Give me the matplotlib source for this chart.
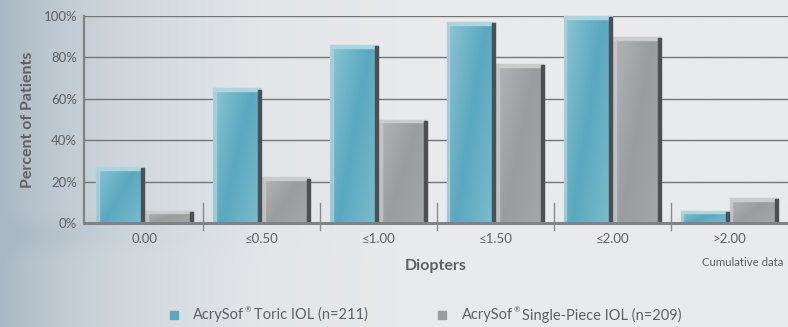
import numpy as np
import matplotlib
matplotlib.use("Agg")
import matplotlib.pyplot as plt
from matplotlib.colors import LinearSegmentedColormap
from matplotlib.patches import Rectangle

# Cumulative refractive astigmatism, percent of patients
categories = ["0.00", "\u22640.50", "\u22641.00", "\u22641.50", "\u22642.00", ">2.00"]
toric = [27, 65, 86, 97, 100, 6]
single_piece = [6, 22, 50, 77, 90, 12]
brand = "AcrySof"
series_names = ["Toric IOL (n=211)", "Single-Piece IOL (n=209)"]
series_colors = ["#5aa8bf", "#9a9da0"]

plt.rcParams["font.family"] = ["Lato", "DejaVu Sans"]
TXT = "#5f6062"
W, H = 788, 327

fig = plt.figure(figsize=(W / 100, H / 100), dpi=100)

# soft background wash: bluish grey at the left, fading to pale grey
bg = fig.add_axes([0, 0, 1, 1], zorder=-10)
bg.set_axis_off()
xx = np.linspace(0, 1, 400)
yy = np.linspace(0, 1, 200)
X, Y = np.meshgrid(xx, yy)
t = np.clip(X / 0.55, 0, 1) ** 0.8
t = t - 0.08 * np.exp(-((Y - 0.72) / 0.05) ** 2) * (1 - t)
bg_cmap = LinearSegmentedColormap.from_list("bg", ["#a9b8c3", "#cdd5db", "#e3e6e9", "#e8eaec"])
bg.imshow(t, cmap=bg_cmap, aspect="auto", extent=[0, 1, 0, 1], vmin=0, vmax=1)

ax = fig.add_axes([84 / W, 104 / H, 704 / W, 207 / H])
ax.set_facecolor("none")

x = np.arange(len(categories))
width = 0.41
offset = 0.21

teal_cmap = LinearSegmentedColormap.from_list("teal", ["#8cc5d4", "#5aa8bf", "#7dbccd"])
grey_cmap = LinearSegmentedColormap.from_list("grey", ["#b3b6b8", "#9a9da0", "#a5a8aa"])


def draw_bars(pos, vals, cmap, top_col, edge_col):
    bars = ax.bar(pos, vals, width, color="none", zorder=3)
    for r in bars:
        x0, y0 = r.get_x(), r.get_y()
        w, h = r.get_width(), r.get_height()
        g = np.linspace(0, 1, 64)
        G = (g[None, :] * 0.6 + g[:, None] * 0.4)
        im = ax.imshow(G[::-1], cmap=cmap, aspect="auto", origin="lower",
                       extent=[x0, x0 + w, y0, y0 + h], zorder=3)
        im.set_clip_path(r)
        # light cap along top and left, dark shadow on right edge
        ax.add_patch(Rectangle((x0, h - 1.4), w, 1.4, color=top_col, zorder=4, clip_on=False))
        ax.add_patch(Rectangle((x0, 0), 0.02, h, color=top_col, alpha=0.7, zorder=4))
        ax.add_patch(Rectangle((x0 + w - 0.025, 0), 0.025, h - 0.6, color=edge_col, zorder=5, clip_on=False))
    return bars


draw_bars(x - offset, toric, teal_cmap, "#a9d6e2", "#4d4f52")
draw_bars(x + offset, single_piece, grey_cmap, "#c9cccd", "#4d4f52")

ax.set_xlim(-0.52, 5.5)
ax.set_ylim(0, 100)
ax.set_yticks(np.arange(0, 101, 20))
ax.set_yticklabels([f"{v}%" for v in range(0, 101, 20)], color=TXT, fontsize=9.5)
ax.yaxis.grid(True, color="#737577", linewidth=1.0)
ax.set_axisbelow(True)
ax.tick_params(axis="y", length=0, pad=5)
ax.tick_params(axis="x", length=0, pad=7)
ax.set_xticks(x)
ax.set_xticklabels(categories, color=TXT, fontsize=9.5)

for s in ["top", "right"]:
    ax.spines[s].set_visible(False)
ax.spines["left"].set_color("#808284")
ax.spines["left"].set_linewidth(1.6)
ax.spines["bottom"].set_color("#808284")
ax.spines["bottom"].set_linewidth(2.2)
ax.spines["bottom"].set_zorder(6)

# group separators crossing the baseline
for sx in x[:-1] + 0.5:
    ax.plot([sx, sx], [-3.5, 9.5], color="#8a8c8e", linewidth=1, clip_on=False, zorder=2)

ax.set_ylabel("Percent of Patients", color=TXT, fontsize=11.5, fontweight="bold", labelpad=6)
ax.set_xlabel("Diopters", color=TXT, fontsize=11.5, fontweight="bold", labelpad=10)
fig.text(783 / W, 1 - 263 / H, "Cumulative data", color=TXT, fontsize=8.2,
         ha="right", va="center")

# legend row below the chart, with a small raised registered mark
renderer = fig.canvas.get_renderer()


def legend_entry(sq_x, txt_x, name, color, y_px=315):
    fig.patches.append(Rectangle((sq_x / W, 1 - (y_px + 4) / H), 8 / W, 8 / H,
                                 transform=fig.transFigure, color=color))
    t1 = fig.text(txt_x / W, 1 - y_px / H, brand, color=TXT, fontsize=10.5, va="center")
    x1 = t1.get_window_extent(renderer).x1
    t2 = fig.text((x1 + 0.5) / W, 1 - (y_px - 5) / H, "\u00ae", color=TXT, fontsize=5.5,
                  va="center")
    x2 = t2.get_window_extent(renderer).x1
    fig.text((x2 + 2.5) / W, 1 - y_px / H, name, color=TXT, fontsize=10.5, va="center")


legend_entry(170, 193, series_names[0], series_colors[0])
legend_entry(438, 462, series_names[1], series_colors[1])

fig.savefig("out.png", dpi=100)
